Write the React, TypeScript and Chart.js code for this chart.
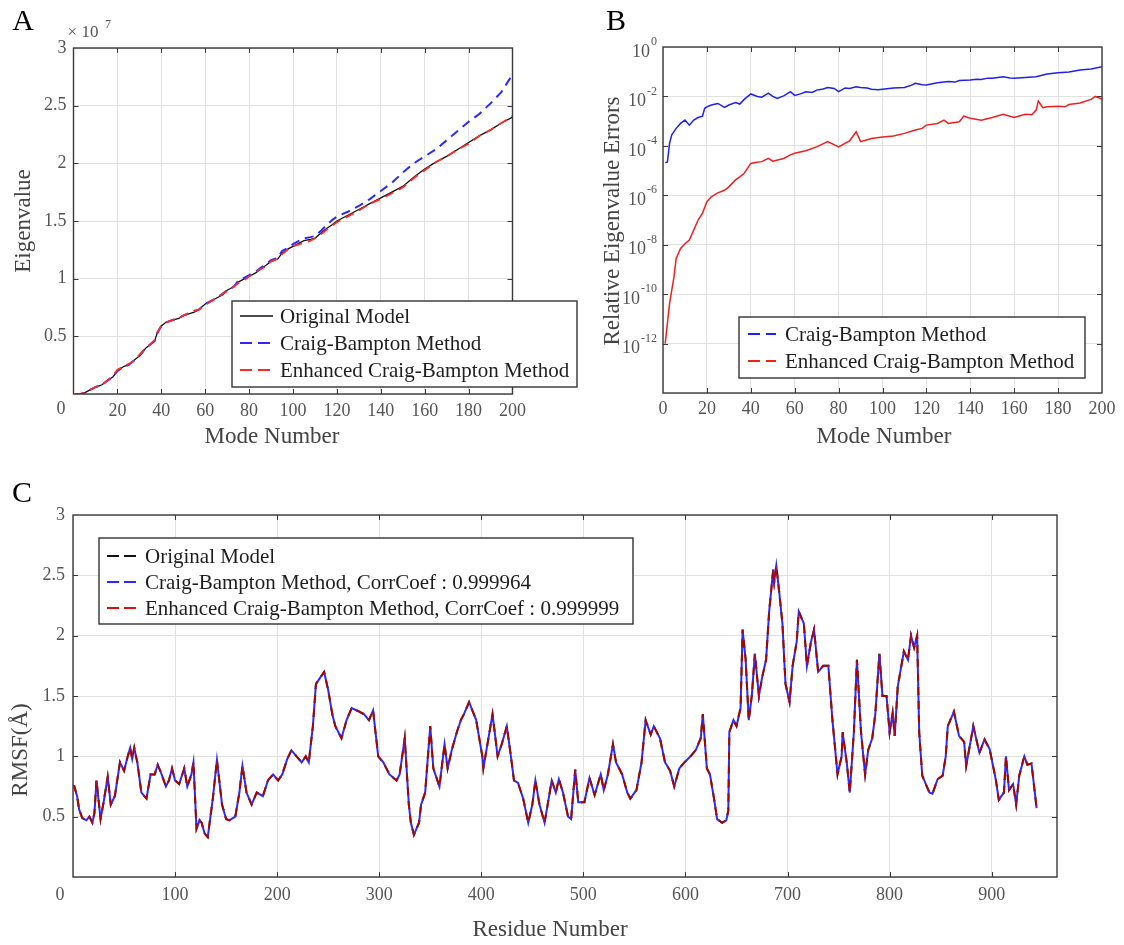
import React, { useEffect, useRef } from "react";
import { Chart, registerables } from "chart.js";
Chart.register(...registerables);

const SERIF = '"Times New Roman", "Liberation Serif", "DejaVu Serif", serif';
const W = 1124;
const H = 945;

// ---------------- Panel A : eigenvalues (units of 10^7) ----------------
const modesA = [1, 3, 5, 8, 10, 13, 15, 18, 20, 23, 25, 28, 30, 33, 35, 37, 38, 40, 42, 45, 48, 50, 55, 57, 60, 63, 65, 68, 70, 73, 75, 78, 80, 83, 85, 88, 90, 93, 95, 98, 100, 103, 105, 108, 110, 113, 115, 118, 120, 125, 130, 135, 140, 145, 150, 155, 160, 165, 170, 175, 180, 185, 190, 195, 200];
const eigOriginal = [0, 0, 0.01, 0.04, 0.06, 0.08, 0.11, 0.15, 0.2, 0.24, 0.25, 0.3, 0.33, 0.4, 0.43, 0.46, 0.52, 0.59, 0.62, 0.64, 0.655, 0.68, 0.71, 0.73, 0.78, 0.81, 0.83, 0.86, 0.9, 0.93, 0.97, 1.0, 1.02, 1.05, 1.08, 1.12, 1.15, 1.17, 1.22, 1.26, 1.28, 1.31, 1.33, 1.34, 1.35, 1.4, 1.43, 1.47, 1.5, 1.55, 1.6, 1.65, 1.7, 1.75, 1.8, 1.88, 1.95, 2.01, 2.06, 2.12, 2.18, 2.24, 2.29, 2.35, 2.4];
const eigCraigBampton = [0, 0, 0.01, 0.04, 0.06, 0.08, 0.11, 0.15, 0.2, 0.24, 0.25, 0.3, 0.33, 0.4, 0.43, 0.46, 0.52, 0.59, 0.62, 0.64, 0.66, 0.68, 0.72, 0.73, 0.78, 0.81, 0.83, 0.87, 0.9, 0.93, 0.98, 1.01, 1.03, 1.06, 1.09, 1.13, 1.16, 1.18, 1.24, 1.27, 1.3, 1.33, 1.35, 1.36, 1.37, 1.42, 1.46, 1.51, 1.54, 1.58, 1.63, 1.69, 1.76, 1.83, 1.92, 2.0, 2.06, 2.12, 2.2, 2.28, 2.36, 2.43, 2.52, 2.62, 2.77];
const eigEnhanced = [0, 0, 0.01, 0.04, 0.06, 0.08, 0.11, 0.16, 0.21, 0.24, 0.26, 0.29, 0.34, 0.4, 0.43, 0.47, 0.53, 0.59, 0.62, 0.64, 0.66, 0.68, 0.72, 0.73, 0.77, 0.81, 0.83, 0.87, 0.89, 0.93, 0.96, 0.99, 1.02, 1.06, 1.08, 1.11, 1.15, 1.17, 1.21, 1.26, 1.28, 1.3, 1.31, 1.33, 1.35, 1.39, 1.42, 1.46, 1.49, 1.54, 1.59, 1.65, 1.69, 1.74, 1.79, 1.87, 1.94, 2.01, 2.06, 2.12, 2.17, 2.24, 2.29, 2.35, 2.41];
const xTicksA = [0, 20, 40, 60, 80, 100, 120, 140, 160, 180, 200];
const yTicksA = [0, 0.5, 1, 1.5, 2, 2.5, 3];

// ---------------- Panel B : relative eigenvalue errors ----------------
const modesErrCB = [1, 2, 3, 4, 6, 8, 10, 12, 14, 16, 18, 19, 20, 22, 25, 28, 30, 33, 35, 37, 40, 43, 45, 48, 50, 52, 55, 58, 60, 63, 65, 68, 70, 73, 75, 78, 80, 83, 85, 88, 90, 93, 95, 98, 100, 105, 110, 113, 115, 118, 120, 125, 130, 133, 135, 140, 143, 145, 148, 150, 155, 158, 160, 165, 170, 175, 180, 185, 190, 195, 200];
const errCraigBampton = [2.1e-5, 2.2e-5, 1.3e-4, 2.8e-4, 5.1e-4, 8.1e-4, 1.1e-3, 6.9e-4, 1.1e-3, 1.4e-3, 1.6e-3, 3.3e-3, 3.8e-3, 4.5e-3, 5.2e-3, 3.6e-3, 4.5e-3, 5.6e-3, 4.9e-3, 7.6e-3, 1.26e-2, 1.0e-2, 9.3e-3, 1.35e-2, 1.0e-2, 8.3e-3, 1.05e-2, 1.55e-2, 1.1e-2, 1.3e-2, 1.55e-2, 1.45e-2, 1.8e-2, 2.0e-2, 2.3e-2, 2.1e-2, 1.55e-2, 2.2e-2, 2.1e-2, 2.45e-2, 2.3e-2, 2.2e-2, 1.95e-2, 1.85e-2, 1.95e-2, 2.2e-2, 2.3e-2, 2.8e-2, 3.4e-2, 3.0e-2, 2.9e-2, 3.6e-2, 4.0e-2, 3.8e-2, 4.4e-2, 4.6e-2, 5.0e-2, 4.8e-2, 5.5e-2, 5.4e-2, 6.3e-2, 5.6e-2, 5.4e-2, 5.8e-2, 6.3e-2, 8.1e-2, 9.1e-2, 9.8e-2, 0.117, 0.129, 0.158];
const modesErrECB = [1, 2, 3, 4, 5, 6, 8, 10, 12, 14, 16, 18, 20, 22, 25, 28, 30, 33, 35, 37, 40, 42, 45, 48, 50, 55, 58, 60, 65, 70, 75, 80, 85, 88, 90, 95, 100, 105, 110, 115, 118, 120, 125, 128, 130, 135, 137, 140, 145, 150, 155, 160, 165, 168, 170, 171, 173, 175, 180, 183, 185, 190, 195, 197, 200];
const errEnhanced = [1e-12, 6.5e-12, 4.2e-11, 1.45e-10, 5.0e-10, 2.8e-9, 7.1e-9, 1.1e-8, 1.55e-8, 3.9e-8, 1.0e-7, 1.9e-7, 5.5e-7, 8.7e-7, 1.26e-6, 1.6e-6, 2.2e-6, 4.2e-6, 5.6e-6, 7.8e-6, 1.95e-5, 2.1e-5, 2.3e-5, 3.1e-5, 2.4e-5, 3.1e-5, 4.3e-5, 5.0e-5, 6.3e-5, 9.1e-5, 1.48e-4, 9.1e-5, 1.6e-4, 3.7e-4, 1.48e-4, 2.0e-4, 2.3e-4, 2.5e-4, 3.2e-4, 4.4e-4, 5.1e-4, 6.9e-4, 8.1e-4, 1.1e-3, 8.1e-4, 9.5e-4, 1.6e-3, 1.3e-3, 1.1e-3, 1.4e-3, 1.9e-3, 1.4e-3, 1.9e-3, 1.8e-3, 2.8e-3, 6.5e-3, 3.5e-3, 3.8e-3, 4.0e-3, 3.8e-3, 4.7e-3, 5.4e-3, 7.6e-3, 1.0e-2, 7.9e-3];
const xTicksB = [0, 20, 40, 60, 80, 100, 120, 140, 160, 180, 200];
const yTicksB = [1e-14, 1e-12, 1e-10, 1e-8, 1e-6, 1e-4, 1e-2, 1];
const yLabelExpB = [0, -2, -4, -6, -8, -10, -12];

// ---------------- Panel C : RMSF ----------------
const residuesC = [
  1, 4, 6, 9, 13, 16, 19, 21, 23, 27,
  30, 34, 37, 41, 46, 50, 53, 56, 58, 60,
  63, 67, 72, 76, 80, 83, 86, 91, 94, 97,
  100, 104, 109, 112, 116, 118, 121, 124, 126, 129,
  132, 137, 141, 146, 150, 153, 159, 163, 166, 170,
  175, 180, 186, 191, 196, 201, 205, 210, 214, 219,
  224, 228, 231, 235, 238, 242, 246, 250, 254, 257,
  263, 268, 273, 278, 285, 290, 294, 299, 304, 310,
  317, 320, 325, 329, 331, 334, 339, 341, 345, 350,
  353, 359, 364, 367, 371, 376, 380, 383, 388, 395,
  401, 402, 408, 411, 416, 420, 425, 429, 432, 436,
  441, 446, 450, 453, 457, 462, 465, 469, 473, 476,
  480, 485, 488, 492, 495, 501, 506, 511, 517, 520,
  524, 529, 532, 538, 543, 546, 552, 557, 561, 566,
  569, 575, 580, 585, 589, 594, 599, 605, 610, 615,
  617, 621, 624, 628, 631, 636, 640, 642, 643, 647,
  650, 654, 656, 659, 662, 665, 668, 672, 675, 679,
  682, 686, 687, 689, 692, 695, 698, 702, 705, 709,
  711, 716, 719, 723, 726, 730, 735, 740, 744, 749,
  753, 754, 758, 761, 765, 768, 772, 776, 779, 783,
  786, 790, 793, 797, 800, 803, 805, 808, 814, 818,
  821, 824, 827, 829, 832, 839, 842, 847, 852, 855,
  857, 863, 868, 873, 875, 882, 888, 893, 898, 904,
  907, 912, 914, 917, 921, 924, 927, 932, 935, 939,
  942, 944,
];
const rmsfOriginal = [
  0.76, 0.67, 0.56, 0.49, 0.47, 0.5, 0.45, 0.53, 0.8, 0.48,
  0.62, 0.83, 0.6, 0.67, 0.95, 0.88, 0.98, 1.07, 0.98, 1.07,
  0.95, 0.7, 0.65, 0.85, 0.85, 0.93, 0.87, 0.75, 0.8, 0.9,
  0.8, 0.77, 0.9, 0.75, 0.85, 0.95, 0.4, 0.47, 0.45, 0.36,
  0.33, 0.65, 0.97, 0.6, 0.48, 0.47, 0.5, 0.7, 0.92, 0.7,
  0.6, 0.7, 0.67, 0.8, 0.85, 0.8, 0.85, 0.98, 1.05, 1.0,
  0.95, 1.0, 0.95, 1.25, 1.6, 1.65, 1.7, 1.55, 1.35, 1.25,
  1.15, 1.3, 1.4, 1.38, 1.35, 1.3, 1.38, 1.0, 0.95, 0.85,
  0.8, 0.85, 1.15, 0.6, 0.45, 0.35, 0.45, 0.6, 0.7, 1.25,
  0.9, 0.75, 1.1, 0.9, 1.05, 1.2, 1.3, 1.35, 1.45, 1.3,
  1.0, 0.9, 1.2, 1.35, 1.0, 1.1, 1.25, 1.0, 0.8, 0.78,
  0.65, 0.45, 0.6, 0.8, 0.6, 0.45, 0.6, 0.8, 0.7, 0.81,
  0.7, 0.5, 0.48, 0.89, 0.62, 0.62, 0.82, 0.68, 0.85, 0.72,
  0.85, 1.1, 0.95, 0.85, 0.7, 0.65, 0.72, 0.95, 1.3, 1.18,
  1.25, 1.15, 0.95, 0.88, 0.75, 0.9, 0.95, 1.0, 1.05, 1.15,
  1.35, 0.9, 0.85, 0.65, 0.48, 0.45, 0.47, 0.55, 1.2, 1.3,
  1.25, 1.4, 2.05, 1.8, 1.3, 1.5, 1.85, 1.5, 1.65, 1.8,
  2.2, 2.55, 2.45, 2.58, 2.35, 2.1, 1.6, 1.45, 1.75, 1.95,
  2.2, 2.1, 1.75, 1.95, 2.05, 1.7, 1.75, 1.75, 1.3, 0.85,
  1.0, 1.2, 0.95, 0.7, 1.2, 1.8, 1.2, 0.85, 1.05, 1.15,
  1.35, 1.85, 1.5, 1.5, 1.2, 1.36, 1.17, 1.58, 1.87, 1.8,
  2.0, 1.9, 2.0, 1.2, 0.84, 0.7, 0.69, 0.81, 0.84, 1.0,
  1.25, 1.37, 1.17, 1.12, 0.92, 1.25, 1.03, 1.14, 1.06, 0.81,
  0.64, 0.7, 1.0, 0.72, 0.77, 0.6, 0.84, 1.0, 0.93, 0.94,
  0.72, 0.57,
];
// The two reduced models coincide with the original curve at this scale (CorrCoef ≈ 1)
const rmsfCraigBampton = rmsfOriginal;
const rmsfEnhanced = rmsfOriginal;
const xTicksC = [0, 100, 200, 300, 400, 500, 600, 700, 800, 900];
const yTicksC = [0, 0.5, 1, 1.5, 2, 2.5, 3];

// ---------------- helpers ----------------
const pts = (xs: number[], ys: number[]) => xs.map((x, i) => ({ x, y: ys[i] }));

interface TextSpec {
  text: string;
  x: number;
  y: number;
  size: number;
  color: string;
  rotate?: boolean;
  align?: CanvasTextAlign;
}
interface LegendEntry {
  label: string;
  color: string;
  dash: number[];
  width: number;
}
interface LegendSpec {
  box: { l: number; t: number; r: number; b: number };
  rows: number[];
  sample: [number, number];
  textX: number;
  entries: LegendEntry[];
}
interface Decor {
  xTicks: number[];
  yTicks: number[];
  texts: TextSpec[];
  legend?: LegendSpec;
  logExps?: number[];
}

function decorPlugin(d: Decor) {
  return {
    id: "decor",
    afterDatasetsDraw(chart: any) {
      const { ctx, chartArea: a, scales } = chart;
      const xs = scales.x;
      const ys = scales.y;
      ctx.save();
      // inward tick marks
      ctx.strokeStyle = "#3a3a3a";
      ctx.lineWidth = 1;
      ctx.beginPath();
      for (const v of d.xTicks) {
        const p = Math.round(xs.getPixelForValue(v)) + 0.5;
        if (p <= a.left + 1 || p >= a.right - 1) continue;
        ctx.moveTo(p, a.bottom);
        ctx.lineTo(p, a.bottom - 5);
        ctx.moveTo(p, a.top);
        ctx.lineTo(p, a.top + 5);
      }
      for (const v of d.yTicks) {
        const p = Math.round(ys.getPixelForValue(v)) + 0.5;
        if (p <= a.top + 1 || p >= a.bottom - 1) continue;
        ctx.moveTo(a.left, p);
        ctx.lineTo(a.left + 5, p);
        ctx.moveTo(a.right, p);
        ctx.lineTo(a.right - 5, p);
      }
      ctx.stroke();
      // frame
      ctx.lineWidth = 1.4;
      ctx.strokeRect(a.left, a.top, a.right - a.left, a.bottom - a.top);

      // log tick labels 10^e
      if (d.logExps) {
        for (const e of d.logExps) {
          const py = ys.getPixelForValue(Math.pow(10, e));
          const right = a.left - 6;
          ctx.fillStyle = "#555";
          ctx.textBaseline = "middle";
          ctx.textAlign = "left";
          ctx.font = `12px ${SERIF}`;
          const es = String(e);
          const ew = ctx.measureText(es).width;
          ctx.fillText(es, right - ew, py - 5);
          ctx.font = `18px ${SERIF}`;
          const bw = ctx.measureText("10").width;
          ctx.fillText("10", right - ew - bw - 1, py + 5);
        }
      }

      // free texts
      for (const t of d.texts) {
        ctx.save();
        ctx.fillStyle = t.color;
        ctx.font = `${t.size}px ${SERIF}`;
        ctx.textBaseline = "middle";
        ctx.textAlign = t.align || "center";
        if (t.rotate) {
          ctx.translate(t.x, t.y);
          ctx.rotate(-Math.PI / 2);
          ctx.fillText(t.text, 0, 0);
        } else {
          ctx.fillText(t.text, t.x, t.y);
        }
        ctx.restore();
      }

      // legend
      if (d.legend) {
        const L = d.legend;
        const b = L.box;
        ctx.fillStyle = "#ffffff";
        ctx.fillRect(b.l, b.t, b.r - b.l, b.b - b.t);
        ctx.strokeStyle = "#333";
        ctx.lineWidth = 1.4;
        ctx.strokeRect(b.l, b.t, b.r - b.l, b.b - b.t);
        L.entries.forEach((en, i) => {
          const y = L.rows[i];
          ctx.save();
          ctx.strokeStyle = en.color;
          ctx.lineWidth = en.width;
          ctx.setLineDash(en.dash);
          ctx.beginPath();
          ctx.moveTo(L.sample[0], y);
          ctx.lineTo(L.sample[1], y);
          ctx.stroke();
          ctx.restore();
          ctx.fillStyle = "#1e1e1e";
          ctx.font = `21px ${SERIF}`;
          ctx.textBaseline = "middle";
          ctx.textAlign = "left";
          ctx.fillText(en.label, L.textX, y + 1);
        });
      }
      ctx.restore();
    },
  };
}

const tickFont = { family: SERIF, size: 18 };
const gridCfg = { color: "#e2e2e2", lineWidth: 1, drawTicks: false };

function linearAxis(min: number, max: number, ticks: number[], size: number, horizontal: boolean, pad: number, hideZero: boolean) {
  return {
    type: "linear",
    min,
    max,
    afterBuildTicks: (s: any) => {
      s.ticks = ticks.map((v) => ({ value: v }));
    },
    afterFit: (s: any) => {
      if (horizontal) s.height = size;
      else s.width = size;
    },
    grid: gridCfg,
    border: { display: false },
    ticks: {
      autoSkip: false,
      maxRotation: 0,
      padding: pad,
      color: "#555",
      font: tickFont,
      callback: (v: number) => (hideZero && v === 0 ? "" : String(v)),
    },
  };
}

// ---------------- chart configs ----------------
function configA(): any {
  return {
    type: "line",
    data: {
      datasets: [
        { label: "Enhanced Craig-Bampton Method", data: pts(modesA, eigEnhanced), borderColor: "#ff2a2a", borderWidth: 1.8, borderDash: [9, 6], pointRadius: 0, order: 0 },
        { label: "Craig-Bampton Method", data: pts(modesA, eigCraigBampton), borderColor: "#2a2aff", borderWidth: 2, borderDash: [9, 6], pointRadius: 0, order: 1 },
        { label: "Original Model", data: pts(modesA, eigOriginal), borderColor: "#111", borderWidth: 1.3, pointRadius: 0, order: 2 },
      ],
    },
    options: {
      responsive: false,
      animation: false,
      devicePixelRatio: 1,
      layout: { padding: { left: 33.5, top: 48, right: W - 512.5, bottom: H - 394 - 30 } },
      plugins: { legend: { display: false }, tooltip: { enabled: false } },
      scales: {
        x: linearAxis(0, 200, xTicksA, 30, true, 6, true),
        y: linearAxis(0, 3, yTicksA, 40, false, 7, true),
      },
    },
    plugins: [
      decorPlugin({
        xTicks: xTicksA,
        yTicks: yTicksA,
        texts: [
          { text: "A", x: 23, y: 22, size: 30, color: "#000" },
          { text: "× 10", x: 83, y: 33, size: 17, color: "#555" },
          { text: "7", x: 108, y: 25, size: 12, color: "#555" },
          { text: "0", x: 61, y: 409, size: 18, color: "#555" },
          { text: "Mode Number", x: 272, y: 437, size: 23, color: "#444" },
          { text: "Eigenvalue", x: 24, y: 221, size: 23, color: "#444", rotate: true },
        ],
        legend: {
          box: { l: 232, t: 301, r: 577, b: 387 },
          rows: [316, 343, 370],
          sample: [240, 273],
          textX: 280,
          entries: [
            { label: "Original Model", color: "#111", dash: [], width: 1.3 },
            { label: "Craig-Bampton Method", color: "#2a2aff", dash: [12, 6], width: 2 },
            { label: "Enhanced Craig-Bampton Method", color: "#ff2a2a", dash: [12, 6], width: 1.8 },
          ],
        },
      }),
    ],
  };
}

function configB(): any {
  return {
    type: "line",
    data: {
      datasets: [
        { label: "Enhanced Craig-Bampton Method", data: pts(modesErrECB, errEnhanced), borderColor: "#f02020", borderWidth: 1.5, pointRadius: 0, order: 0 },
        { label: "Craig-Bampton Method", data: pts(modesErrCB, errCraigBampton), borderColor: "#2020ee", borderWidth: 1.5, pointRadius: 0, order: 1 },
      ],
    },
    options: {
      responsive: false,
      animation: false,
      devicePixelRatio: 1,
      layout: { padding: { left: 663 - 40, top: 47, right: W - 1102, bottom: H - 393 - 30 } },
      plugins: { legend: { display: false }, tooltip: { enabled: false } },
      scales: {
        x: linearAxis(0, 200, xTicksB, 30, true, 5, false),
        y: {
          type: "logarithmic",
          min: 1e-14,
          max: 1,
          afterBuildTicks: (s: any) => {
            s.ticks = yTicksB.map((v) => ({ value: v }));
          },
          afterFit: (s: any) => {
            s.width = 40;
          },
          grid: gridCfg,
          border: { display: false },
          ticks: { display: false },
        },
      },
    },
    plugins: [
      decorPlugin({
        xTicks: xTicksB,
        yTicks: yTicksB,
        logExps: yLabelExpB,
        texts: [
          { text: "B", x: 616, y: 22, size: 30, color: "#000" },
          { text: "Mode Number", x: 884, y: 437, size: 23, color: "#444" },
          { text: "Relative Eigenvalue Errors", x: 613, y: 221, size: 23, color: "#444", rotate: true },
        ],
        legend: {
          box: { l: 739, t: 317, r: 1085, b: 378 },
          rows: [334, 361],
          sample: [748, 776],
          textX: 785,
          entries: [
            { label: "Craig-Bampton Method", color: "#2020ee", dash: [12, 6], width: 1.8 },
            { label: "Enhanced Craig-Bampton Method", color: "#f02020", dash: [12, 6], width: 1.8 },
          ],
        },
      }),
    ],
  };
}

function configC(): any {
  return {
    type: "line",
    data: {
      datasets: [
        { label: "Enhanced Craig-Bampton Method, CorrCoef : 0.999999", data: pts(residuesC, rmsfEnhanced), borderColor: "rgba(205,0,0,0.78)", borderWidth: 2, borderDash: [8, 6], borderDashOffset: 0, pointRadius: 0, order: 0 },
        { label: "Craig-Bampton Method, CorrCoef : 0.999964", data: pts(residuesC, rmsfCraigBampton), borderColor: "#2a2aff", borderWidth: 2, borderDash: [8, 6], borderDashOffset: 7, pointRadius: 0, order: 1 },
        { label: "Original Model", data: pts(residuesC, rmsfOriginal), borderColor: "#111", borderWidth: 2, borderDash: [8, 6], borderDashOffset: 0, pointRadius: 0, order: 2 },
      ],
    },
    options: {
      responsive: false,
      animation: false,
      devicePixelRatio: 1,
      layout: { padding: { left: 33, top: 515, right: W - 1057, bottom: H - 877 - 30 } },
      plugins: { legend: { display: false }, tooltip: { enabled: false } },
      scales: {
        x: linearAxis(0, 964, xTicksC, 30, true, 7, true),
        y: linearAxis(0, 3, yTicksC, 40, false, 8, true),
      },
    },
    plugins: [
      decorPlugin({
        xTicks: xTicksC,
        yTicks: yTicksC,
        texts: [
          { text: "C", x: 22, y: 494, size: 30, color: "#000" },
          { text: "0", x: 60, y: 895, size: 18, color: "#555" },
          { text: "Residue Number", x: 550, y: 930, size: 23, color: "#444" },
          { text: "RMSF(Å)", x: 21, y: 750, size: 23, color: "#444", rotate: true },
        ],
        legend: {
          box: { l: 99, t: 538, r: 633, b: 624 },
          rows: [556, 582, 608],
          sample: [107, 137],
          textX: 145,
          entries: [
            { label: "Original Model", color: "#111", dash: [12, 5], width: 2 },
            { label: "Craig-Bampton Method, CorrCoef : 0.999964", color: "#2a2aff", dash: [12, 5], width: 2 },
            { label: "Enhanced Craig-Bampton Method, CorrCoef : 0.999999", color: "#e01010", dash: [12, 5], width: 2 },
          ],
        },
      }),
    ],
  };
}

function ChartCanvas({ make }: { make: () => any }) {
  const ref = useRef<HTMLCanvasElement | null>(null);
  useEffect(() => {
    if (!ref.current) return;
    const chart = new Chart(ref.current, make());
    return () => chart.destroy();
  }, [make]);
  return (
    <canvas
      ref={ref}
      width={W}
      height={H}
      style={{ position: "absolute", left: 0, top: 0, width: W, height: H }}
    />
  );
}

export default function App() {
  return (
    <div style={{ position: "absolute", left: 0, top: 0, width: W, height: H, background: "#fff", overflow: "hidden" }}>
      <ChartCanvas make={configA} />
      <ChartCanvas make={configB} />
      <ChartCanvas make={configC} />
    </div>
  );
}
